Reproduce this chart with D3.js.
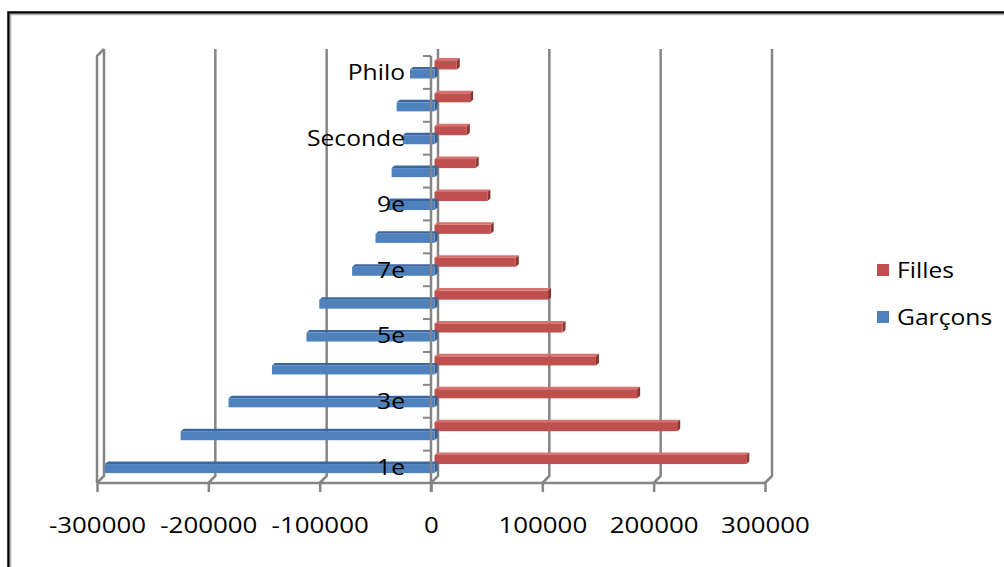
<!DOCTYPE html>
<html>
<head>
<meta charset="utf-8">
<script src="https://cdn.jsdelivr.net/npm/d3@7"></script>
<style>
  html, body { margin: 0; padding: 0; background: #fff; }
  svg { display: block; }
  text { font-family: "Open Sans", sans-serif; fill: #000; }
</style>
</head>
<body>
<svg id="chart" width="1004" height="567"></svg>
<script>
// School enrolment by grade, boys plotted to the left, girls to the right
const categories = ["1e", "2e", "3e", "4e", "5e", "6e", "7e", "8e", "9e", "Troisième", "Seconde", "Rhéto", "Philo"];
const filles  = [280000, 218000, 182000, 145000, 115000, 102000, 73000, 50500, 47500, 37000, 29000, 32000, 20000];
const garcons = [-296000, -228000, -185000, -146000, -115000, -103500, -74000, -53000, -42000, -38500, -28500, -34000, -22000];
const xTicks = [-300000, -200000, -100000, 0, 100000, 200000, 300000];
const seriesNames = ["Filles", "Garçons"];

const svg = d3.select("#chart");
const FONT_SIZE = "22px";
const STRETCH = 1.12;

// widen the glyphs slightly, keeping the text anchor
function widen(sel, factor) {
  const f = factor || STRETCH;
  sel.each(function () {
    const len = this.getComputedTextLength();
    if (len > 0) {
      d3.select(this).attr("textLength", len * f).attr("lengthAdjust", "spacingAndGlyphs");
    }
  });
}

// chart frame
svg.append("rect").attr("x", 8.5).attr("y", 12.5).attr("width", 1010).attr("height", 570)
  .attr("fill", "none").attr("stroke", "#000").attr("stroke-width", 2.5);
svg.append("rect").attr("x", 10.5).attr("y", 14.5).attr("width", 1010).attr("height", 570)
  .attr("fill", "none").attr("stroke", "#b0b0b0").attr("stroke-width", 1.5);

// front plane scales
const x = d3.scaleLinear().domain([-300000, 300000]).range([97, 765]);
const y = d3.scaleBand().domain(categories.slice().reverse()).range([56, 483.5]).paddingInner(0).paddingOuter(0);

// depth of the back wall and of the bars
const wallDx = 7, wallDy = -7;
const barDx = 3, barDy = -2.5;
const barShiftX = 3.5, barShiftY = -3;

const wallColor = "#858585";
const g = svg.append("g");

// back wall gridlines with floor connectors
xTicks.forEach(v => {
  const xf = x(v), xb = xf + wallDx;
  g.append("path")
    .attr("d", `M${xb},${56 + wallDy} L${xb},${483 + wallDy} L${xf},483`)
    .attr("fill", "none").attr("stroke", wallColor).attr("stroke-width", 2.5);
});

// left side wall edges
g.append("path")
  .attr("d", `M${x(-300000)},483 L${x(-300000)},56 L${x(-300000) + wallDx},${56 + wallDy}`)
  .attr("fill", "none").attr("stroke", wallColor).attr("stroke-width", 2.5);

// floor front edge
g.append("line").attr("x1", x(-300000)).attr("x2", x(300000)).attr("y1", 483).attr("y2", 483)
  .attr("stroke", wallColor).attr("stroke-width", 2.5);

// bars
const t = y.bandwidth() * 0.275;
const barsG = svg.append("g");
const x0 = x(0) + barShiftX;

function drawBar(v, cat, offset, cFront, cTop, cSide) {
  const yTop = y(cat) + y.bandwidth() / 2 + barShiftY + offset;
  const x1 = x(v) + barShiftX;
  const left = Math.min(x0, x1), right = Math.max(x0, x1);
  // top face
  barsG.append("path")
    .attr("d", `M${left},${yTop} L${left + barDx},${yTop + barDy} L${right + barDx},${yTop + barDy} L${right},${yTop} Z`)
    .attr("fill", cTop);
  // end face on the right side
  barsG.append("path")
    .attr("d", `M${right},${yTop} L${right + barDx},${yTop + barDy} L${right + barDx},${yTop + t + barDy} L${right},${yTop + t} Z`)
    .attr("fill", cSide);
  // front face
  barsG.append("rect")
    .attr("x", left).attr("y", yTop).attr("width", right - left).attr("height", t)
    .attr("fill", cFront);
}

categories.forEach((c, i) => {
  drawBar(filles[i], c, -t, "#C0504D", "#D9726F", "#8E3532");
  drawBar(garcons[i], c, 0, "#4F81BD", "#3B679E", "#36608F");
});

// category axis: front line with boundary ticks
const axG = svg.append("g");
axG.append("line").attr("x1", x(0)).attr("x2", x(0)).attr("y1", 56).attr("y2", 492)
  .attr("stroke", wallColor).attr("stroke-width", 2.5);
categories.forEach(c => {
  axG.append("line").attr("x1", x(0) - 8).attr("x2", x(0)).attr("y1", y(c)).attr("y2", y(c))
    .attr("stroke", wallColor).attr("stroke-width", 2);
});

// category labels, every other one
const yAxis = d3.axisLeft(y).tickSize(0).tickPadding(0)
  .tickFormat(d => (categories.indexOf(d) % 2 === 0 ? d : ""));
const yAxisG = svg.append("g").attr("transform", `translate(${x(0) - 26},0)`).call(yAxis);
yAxisG.select(".domain").remove();
yAxisG.selectAll("text").style("font-family", "'Open Sans', sans-serif").style("font-size", FONT_SIZE)
  .attr("fill", "#000").attr("dy", "0.36em").call(widen);

// value axis
const xAxis = d3.axisBottom(x).tickValues(xTicks).tickSize(9).tickPadding(25)
  .tickFormat(d => String(d));
const xAxisG = svg.append("g").attr("transform", "translate(0,483)").call(xAxis);
xAxisG.select(".domain").remove();
xAxisG.selectAll(".tick line").attr("stroke", wallColor).attr("stroke-width", 2.5);
xAxisG.selectAll("text").style("font-family", "'Open Sans', sans-serif").style("font-size", "22.5px")
  .attr("fill", "#000").call(widen, 1.15);

// legend
const legend = svg.append("g").attr("transform", "translate(877,270)");
const legendColors = ["#C0504D", "#4F81BD"];
seriesNames.forEach((s, i) => {
  const row = legend.append("g").attr("transform", `translate(0,${i * 47})`);
  row.append("rect").attr("x", 0).attr("y", -6).attr("width", 12).attr("height", 12).attr("fill", legendColors[i]);
  row.append("text").attr("x", 20).attr("y", 0).attr("dy", "0.36em")
    .style("font-size", FONT_SIZE).text(s).call(widen);
});
</script>
</body>
</html>
